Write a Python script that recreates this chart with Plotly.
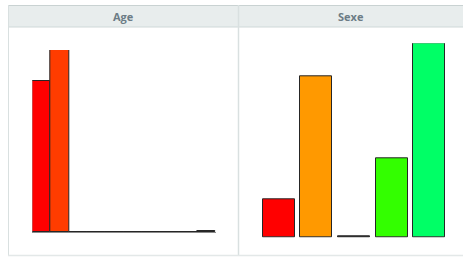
import plotly.graph_objects as go

W, H = 463, 257

# ---- data ----
age_bins = ["0", "1", "2", "3", "4", "5", "6", "7", "8", "9"]
age_values = [83, 100, 0, 0, 0, 0, 0, 0, 0, 0.7]
age_colors = ["#ff0000", "#ff3c00", "#ff7a00", "#ffb000", "#ffe000",
              "#ccff00", "#66ff00", "#00ff33", "#00ff88", "#1a1a1a"]

sexe_cats = ["1", "2", "3", "4", "5"]
sexe_values = [19.5, 82.8, 0.6, 40.8, 100]
sexe_colors = ["#ff0000", "#ff9900", "#1a1a1a", "#33ff00", "#00ff66"]

titles = ["Age", "Sexe"]


def px(x):
    return x / W


def py(y):
    return 1 - y / H


fig = go.Figure()
fig.add_trace(go.Bar(x=list(range(len(age_bins))), y=age_values,
                     marker=dict(color=age_colors, line=dict(color="#262626", width=1)),
                     width=1, xaxis="x", yaxis="y", hoverinfo="skip"))
fig.add_trace(go.Bar(x=list(range(len(sexe_cats))), y=sexe_values,
                     marker=dict(color=sexe_colors, line=dict(color="#262626", width=1)),
                     width=0.85, xaxis="x2", yaxis="y2", hoverinfo="skip"))

border = "#d9e0e0"
shapes = [
    # header background
    dict(type="rect", xref="paper", yref="paper", x0=px(8), x1=px(463), y0=py(27), y1=py(5),
         fillcolor="#e8eded", line=dict(width=0), layer="below"),
    # header top line
    dict(type="line", xref="paper", yref="paper", x0=px(8), x1=px(463), y0=py(5.5), y1=py(5.5),
         line=dict(color="#c9d2d2", width=1)),
    # header bottom line
    dict(type="line", xref="paper", yref="paper", x0=px(8), x1=px(463), y0=py(27), y1=py(27),
         line=dict(color="#cfd8d8", width=1)),
    # left border
    dict(type="line", xref="paper", yref="paper", x0=px(8.5), x1=px(8.5), y0=py(5), y1=py(255),
         line=dict(color=border, width=1)),
    # divider
    dict(type="line", xref="paper", yref="paper", x0=px(238.5), x1=px(238.5), y0=py(5), y1=py(255),
         line=dict(color=border, width=1.5)),
    # bottom line
    dict(type="line", xref="paper", yref="paper", x0=px(8), x1=px(463), y0=py(255.5), y1=py(255.5),
         line=dict(color="#e3e8e8", width=1.5)),
]

annotations = [
    dict(text="<b>%s</b>" % titles[0], x=px(123), y=py(16), xref="paper", yref="paper",
         xanchor="center", yanchor="middle",
         showarrow=False, font=dict(family="Open Sans", size=11, color="#6c7c86")),
    dict(text="<b>%s</b>" % titles[1], x=px(351), y=py(16), xref="paper", yref="paper",
         xanchor="center", yanchor="middle",
         showarrow=False, font=dict(family="Open Sans", size=11, color="#6c7c86")),
]

fig.update_layout(
    width=W, height=H,
    margin=dict(l=0, r=0, t=0, b=0),
    paper_bgcolor="white", plot_bgcolor="rgba(0,0,0,0)",
    showlegend=False, bargap=0,
    shapes=shapes, annotations=annotations,
    xaxis=dict(domain=[px(32.3), px(215.7)], range=[-0.5, 9.5], showgrid=False,
               zeroline=False, showticklabels=False, ticks="", showline=True,
               linecolor="#8a8a8a", linewidth=1, fixedrange=True, anchor="y"),
    yaxis=dict(domain=[py(232), py(50)], range=[0, 100], showgrid=False, zeroline=False,
               showticklabels=False, ticks="", fixedrange=True, anchor="x"),
    xaxis2=dict(domain=[px(260), px(448)], range=[-0.5, 4.5], showgrid=False,
                zeroline=False, showticklabels=False, ticks="", fixedrange=True, anchor="y2"),
    yaxis2=dict(domain=[py(237.7), py(43.3)], range=[0, 100], showgrid=False, zeroline=False,
                showticklabels=False, ticks="", fixedrange=True, anchor="x2"),
)

fig.write_html("out.html", config={"displayModeBar": False},
               post_script="document.body.style.margin='0';document.body.style.overflow='hidden';")
